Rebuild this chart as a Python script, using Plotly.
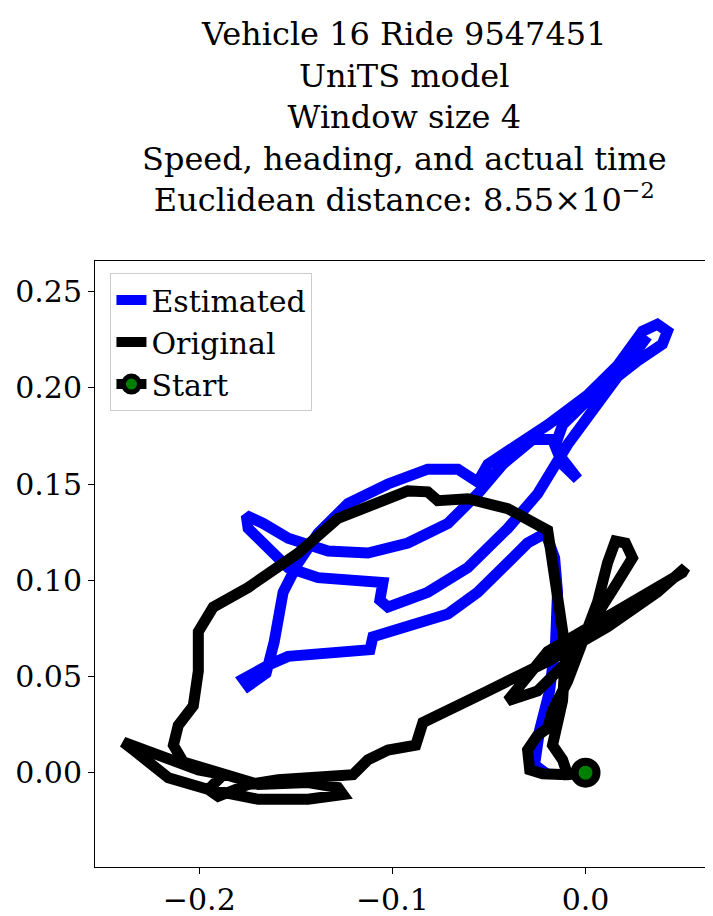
import plotly.graph_objects as go

# values in units of 1e-3
est_x_milli = [-19.6,-26.4,-23.8,-18.6,-15.5,-14.5,-16.0,-20.7,-30.0,-40.3,-55.8,-71.3,-92.0,-110.1,-111.6,-133.3,-154.0,-163.3,-170.5,-177.3,-174.7,-165.4,-161.2,-159.2,-156.6,-148.8,-138.5,-123.0,-102.3,-81.7,-66.1,-55.8,-50.6,-35.1,-19.6,1.0,16.5,29.5,37.2,42.4,39.8,26.9,11.4,1.0,-11.9,-15.5,-11.9,-4.1,-11.9,-17.1,-27.4,-42.9,-55.8,-71.3,-92.0,-112.7,-133.3,-154.0,-166.9,-175.7,-174.7,-164.3,-154.0,-138.5,-112.7,-104.9,-106.5,-102.3,-81.7,-61.0,-40.3,-24.8,-9.3,6.2,21.7,32.0]
est_y_milli = [-1.0,4.1,22.0,42.5,68.1,93.8,111.7,124.5,119.4,109.1,93.8,82.5,75.8,70.7,64.0,62.0,60.5,56.4,52.8,48.7,45.1,51.7,68.1,78.4,93.8,109.1,124.5,139.9,150.1,157.8,157.8,151.1,160.3,170.6,180.8,196.2,211.6,229.5,233.1,229.5,222.8,214.1,201.3,193.6,180.8,170.6,162.9,152.7,160.3,173.2,173.2,160.3,145.0,129.6,119.4,114.2,115.3,121.9,129.6,133.7,127.0,116.8,106.6,101.4,99.9,98.9,89.7,86.1,93.8,106.6,127.0,145.0,170.6,191.1,211.6,226.9]

orig_x_milli = [0,-9.3,-22.2,-28.9,-30.0,-24.8,-19.6,-17.1,-9.3,-1.6,6.2,11.4,15.5,20.7,24.3,16.5,1.0,-9.3,-24.8,-40.3,-19.6,11.4,50.1,51.7,37.2,11.4,-19.6,-50.6,-71.3,-76.5,-84.2,-87.9,-102.3,-112.7,-120.4,-143.7,-159.2,-174.7,-190.2,-195.3,-187.6,-200.5,-221.2,-239.3,-234.1,-216.0,-195.3,-169.5,-143.7,-125.6,-128.2,-143.7,-169.5,-187.6,-208.3,-213.4,-210.9,-203.1,-200.5,-200.5,-192.8,-174.7,-148.8,-128.2,-107.5,-92.0,-81.7,-76.5,-61.0,-40.3,-19.6,-17.1,-14.5,-10.3,-11.9,-14.5,-17.1,-11.9,-9.3,0]
orig_y_milli = [0,-1.0,-0.5,1.5,11.8,19.5,23.1,32.3,47.6,68.1,88.6,109.1,120.4,119.4,111.7,98.9,73.3,57.9,42.5,37.4,63.0,80.9,104.0,106.6,93.8,75.8,57.9,42.5,32.3,28.7,26.1,14.3,11.8,6.7,-1.0,-2.6,-3.6,-6.1,-12.3,-8.7,-1.0,1.5,9.2,15.9,11.8,-2.6,-8.7,-13.8,-13.8,-11.3,-7.7,-5.1,-6.1,-1.0,5.6,14.3,24.6,34.8,52.8,73.3,86.1,96.3,114.2,132.2,139.9,146.5,146.0,141.4,142.4,137.3,126.0,109.1,88.6,63.0,37.4,24.6,14.3,6.7,-1.0,0]

start_x = [0.0]
start_y = [0.0]

est_x = [v / 1000 for v in est_x_milli]
est_y = [v / 1000 for v in est_y_milli]
orig_x = [v / 1000 for v in orig_x_milli]
orig_y = [v / 1000 for v in orig_y_milli]

title_text = ("Vehicle 16 Ride 9547451<br>UniTS model<br>Window size 4<br>"
              "Speed, heading, and actual time<br>Euclidean distance: 8.55×10<sup>−2</sup>")

font = "DejaVu Serif"
fig = go.Figure()
fig.add_trace(go.Scatter(x=est_x, y=est_y, mode="lines", name="Estimated",
                         line=dict(color="#0000ff", width=11)))
fig.add_trace(go.Scatter(x=orig_x, y=orig_y, mode="lines", name="Original",
                         line=dict(color="black", width=11)))
fig.add_trace(go.Scatter(x=start_x, y=start_y, mode="lines+markers", name="Start",
                         line=dict(color="black", width=11),
                         marker=dict(color="green", size=22, line=dict(color="black", width=8))))

fig.update_layout(
    width=713, height=916,
    margin=dict(l=86, r=7, t=253, b=47),
    paper_bgcolor="white", plot_bgcolor="white",
    font=dict(family=font, size=30, color="black"),
    showlegend=True,
    legend=dict(x=0.025, y=0.98, xanchor="left", yanchor="top",
                bgcolor="white", bordercolor="#cccccc", borderwidth=1,
                font=dict(family=font, size=30)),
    annotations=[dict(text=title_text, xref="paper", yref="paper", x=0.5, y=1,
                      xanchor="center", yanchor="bottom", yshift=40, showarrow=False,
                      font=dict(family=font, size=32))],
)
fig.update_xaxes(range=[-0.254, 0.066], tickvals=[-0.2, -0.1, 0.0],
                 ticktext=["−0.2", "−0.1", "0.0"], showgrid=False, zeroline=False,
                 showline=True, linecolor="black", mirror=True, ticks="outside",
                 ticklen=6, tickcolor="black")
fig.update_yaxes(range=[-0.049, 0.266], tickvals=[0, 0.05, 0.1, 0.15, 0.2, 0.25],
                 ticktext=["0.00", "0.05", "0.10", "0.15", "0.20", "0.25"],
                 showgrid=False, zeroline=False,
                 showline=True, linecolor="black", mirror=True, ticks="outside",
                 ticklen=6, tickcolor="black")
fig.write_html("out.html")
